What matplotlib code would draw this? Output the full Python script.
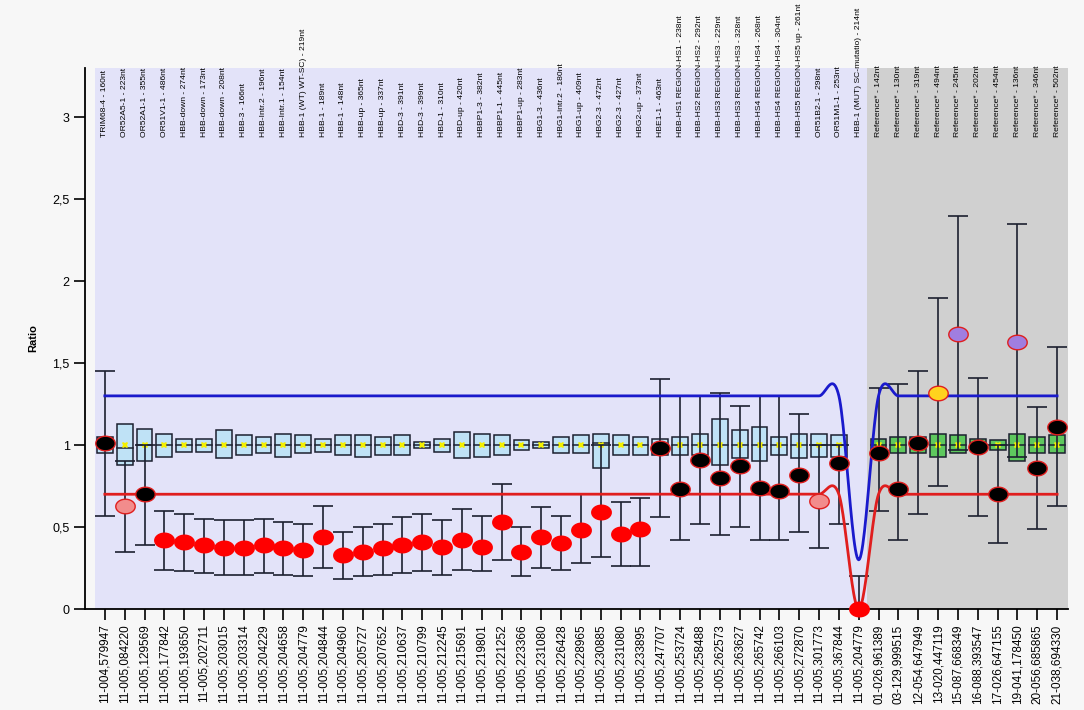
import numpy as np
import matplotlib
matplotlib.use('Agg')
import matplotlib.pyplot as plt
from matplotlib.path import Path

top_labels = [
    'TRIM68-4 - 160nt', 'OR52A5-1 - 223nt', 'OR52A1-1 - 355nt', 'OR51V1-1 - 486nt',
    'HBB-down - 274nt', 'HBB-down - 173nt', 'HBB-down - 208nt', 'HBB-3 - 166nt',
    'HBB-Intr.2 - 196nt', 'HBB-Intr.1 - 154nt', 'HBB-1 (WT) WT-SC) - 219nt',
    'HBB-1 - 189nt', 'HBB-1 - 148nt', 'HBB-up - 365nt', 'HBB-up - 337nt',
    'HBD-3 - 391nt', 'HBD-3 - 399nt', 'HBD-1 - 310nt', 'HBD-up - 420nt',
    'HBBP1-3 - 382nt', 'HBBP1-1 - 445nt', 'HBBP1-up - 283nt', 'HBG1-3 - 436nt',
    'HBG1-intr.2 - 180nt', 'HBG1-up - 409nt', 'HBG2-3 - 472nt', 'HBG2-3 - 427nt',
    'HBG2-up - 373nt', 'HBE1-1 - 463nt',
    'HBB-HS1 REGION-HS1 - 238nt', 'HBB-HS2 REGION-HS2 - 292nt',
    'HBB-HS3 REGION-HS3 - 229nt', 'HBB-HS3 REGION-HS3 - 328nt',
    'HBB-HS4 REGION-HS4 - 268nt', 'HBB-HS4 REGION-HS4 - 304nt',
    'HBB-HS5 REGION-HS5 up - 261nt', 'OR51B2-1 - 298nt', 'OR51M1-1 - 253nt',
    'HBB-1 (MUT) SC-mutatio) - 214nt',
    'Reference* - 142nt', 'Reference* - 130nt', 'Reference* - 319nt',
    'Reference* - 494nt', 'Reference* - 245nt', 'Reference* - 202nt',
    'Reference* - 454nt', 'Reference* - 136nt', 'Reference* - 346nt',
    'Reference* - 502nt',
]

bottom_labels = [
    '11-004,579947', '11-005,084220', '11-005,129569', '11-005,177842',
    '11-005,193650', '11-005,202711', '11-005,203015', '11-005,203314',
    '11-005,204229', '11-005,204658', '11-005,204779', '11-005,204844',
    '11-005,204960', '11-005,205727', '11-005,207652', '11-005,210637',
    '11-005,210799', '11-005,212245', '11-005,215691', '11-005,219801',
    '11-005,221252', '11-005,223366', '11-005,231080', '11-005,226428',
    '11-005,228965', '11-005,230885', '11-005,231080', '11-005,233895',
    '11-005,247707', '11-005,253724', '11-005,258488', '11-005,262573',
    '11-005,263627', '11-005,265742', '11-005,266103', '11-005,272870',
    '11-005,301773', '11-005,367844', '11-005,204779',
    '01-026,961389', '03-129,999515', '12-054,647949', '13-020,447119',
    '15-087,668349', '16-088,393547', '17-026,647155', '19-041,178450',
    '20-056,685865', '21-038,694330',
]

# reference box per probe (nan = no box)
box_lo = [0.95, 0.88, 0.90, 0.93, 0.96, 0.96, 0.92, 0.94, 0.95, 0.93,
          0.95, 0.96, 0.94, 0.93, 0.94, 0.94, 0.98, 0.96, 0.92, 0.93,
          0.94, 0.97, 0.98, 0.95, 0.95, 0.86, 0.94, 0.94, 0.94, 0.94,
          0.94, 0.88, 0.92, 0.90, 0.94, 0.92, 0.93, 0.93, np.nan,
          0.97, 0.95, 0.95, 0.93, 0.95, 0.97, 0.97, 0.90, 0.95, 0.95]
box_hi = [1.05, 1.13, 1.10, 1.07, 1.04, 1.04, 1.09, 1.06, 1.05, 1.07,
          1.06, 1.04, 1.06, 1.06, 1.05, 1.06, 1.02, 1.04, 1.08, 1.07,
          1.06, 1.03, 1.02, 1.05, 1.06, 1.07, 1.06, 1.05, 1.04, 1.05,
          1.07, 1.16, 1.09, 1.11, 1.05, 1.07, 1.07, 1.06, np.nan,
          1.04, 1.05, 1.05, 1.07, 1.06, 1.04, 1.03, 1.07, 1.05, 1.06]
box_med = [1.0, 0.98, 1.0, 1.0, 1.0, 1.0, 1.0, 1.0, 1.0, 1.0,
           1.0, 1.0, 1.0, 1.0, 1.0, 1.0, 1.0, 1.0, 1.0, 1.0,
           1.0, 1.0, 1.0, 1.0, 1.0, 1.01, 1.0, 1.0, 1.0, 1.0,
           1.0, 1.0, 1.0, 1.0, 1.0, 1.0, 1.0, 1.0, np.nan,
           1.0, 1.0, 1.0, 1.0, 1.0, 1.0, 1.0, 1.0, 1.0, 1.0]

# sample ratio and its interval
ratio = [1.01, 0.63, 0.70, 0.42, 0.41, 0.39, 0.37, 0.37, 0.39, 0.37,
         0.36, 0.44, 0.33, 0.35, 0.37, 0.39, 0.41, 0.38, 0.42, 0.38,
         0.53, 0.35, 0.44, 0.40, 0.48, 0.59, 0.46, 0.49, 0.98, 0.73,
         0.91, 0.80, 0.87, 0.74, 0.72, 0.82, 0.66, 0.89, 0.0,
         0.95, 0.73, 1.01, 1.32, 1.68, 0.99, 0.70, 1.63, 0.86, 1.11]
err_lo = [0.57, 0.35, 0.39, 0.24, 0.23, 0.22, 0.21, 0.21, 0.22, 0.21,
          0.20, 0.25, 0.18, 0.20, 0.21, 0.22, 0.23, 0.21, 0.24, 0.23,
          0.30, 0.20, 0.25, 0.24, 0.28, 0.32, 0.26, 0.26, 0.56, 0.42,
          0.52, 0.45, 0.50, 0.42, 0.42, 0.47, 0.37, 0.52, 0.0,
          0.60, 0.42, 0.58, 0.75, 0.97, 0.57, 0.40, 0.93, 0.49, 0.63]
err_hi = [1.45, 0.90, 1.00, 0.60, 0.58, 0.55, 0.54, 0.54, 0.55, 0.53,
          0.52, 0.63, 0.47, 0.50, 0.52, 0.56, 0.58, 0.54, 0.61, 0.57,
          0.76, 0.50, 0.62, 0.57, 0.70, 1.00, 0.65, 0.68, 1.40, 1.30,
          1.30, 1.32, 1.24, 1.30, 1.30, 1.19, 1.00, 1.00, 0.20,
          1.35, 1.37, 1.45, 1.90, 2.40, 1.41, 1.00, 2.35, 1.23, 1.60]
# k = normal, r = loss, p = weak loss, y = weak gain, v = gain
call = list('kpkrrrrrrrrrrrrrrrrrrrrrrrrrkkkkkkkkpkr'
            'kkkyvkkvkk')

upper_limit = [1.3] * 38 + [0.3] + [1.3] * 10
lower_limit = [0.7] * 38 + [0.0] + [0.7] * 10

dot_colors = {'k': '#000000', 'r': '#ff0000', 'p': '#f28c8c',
              'y': '#ffd21e', 'v': '#a07ee0'}

n = len(top_labels)
x = np.arange(n)
n_probe = 39


def smooth(vals, steps=24):
    # Catmull-Rom curve through the per-probe limits
    p = np.asarray(vals, float)
    pp = np.concatenate([[p[0]], p, [p[-1]]])
    xs, ys = [], []
    for i in range(len(p) - 1):
        p0, p1, p2, p3 = pp[i], pp[i + 1], pp[i + 2], pp[i + 3]
        m1 = (p2 - p0) / 2
        m2 = (p3 - p1) / 2
        t = np.linspace(0, 1, steps, endpoint=False)
        h00 = 2 * t**3 - 3 * t**2 + 1
        h10 = t**3 - 2 * t**2 + t
        h01 = -2 * t**3 + 3 * t**2
        h11 = t**3 - t**2
        xs.append(i + t)
        ys.append(h00 * p1 + h10 * m1 + h01 * p2 + h11 * m2)
    xs.append([len(p) - 1])
    ys.append([p[-1]])
    return np.concatenate(xs), np.concatenate(ys)


th = np.linspace(0, 2 * np.pi, 60)
ellipse = Path(np.column_stack([np.cos(th), 0.75 * np.sin(th)]))

fig = plt.figure(figsize=(10.84, 7.10), dpi=100)
fig.patch.set_facecolor('#f7f7f7')
ax = fig.add_axes([85 / 1084, 101 / 710, 983 / 1084, 541 / 710])
ax.set_facecolor('#f7f7f7')
ax.set_xlim(-1.0, 48.55)
ax.set_ylim(0, 3.3)

ax.axvspan(-0.5, n_probe - 0.6, color='#e3e3f9', zorder=0, lw=0)
ax.axvspan(n_probe - 0.6, 48.55, color='#d0d0d0', zorder=0, lw=0)

bw = 0.8
for i in range(n):
    if np.isnan(box_lo[i]):
        continue
    fc = '#bfe2f6' if i < n_probe else '#5ec85e'
    ax.add_patch(plt.Rectangle((i - bw / 2, box_lo[i]), bw, box_hi[i] - box_lo[i],
                               facecolor=fc, edgecolor='#1c2030', lw=1.1, zorder=2))
    ax.plot([i - bw / 2, i + bw / 2], [box_med[i], box_med[i]], color='#1c2030',
            lw=1.1, zorder=2.5)
    ax.plot(i, 1.0, marker='X', color='#f5f000', ms=5, mew=0, zorder=2.6)

ax.errorbar(x, ratio, yerr=[np.array(ratio) - np.array(err_lo),
                            np.array(err_hi) - np.array(ratio)],
            fmt='none', ecolor='#1c2030', elinewidth=1.2, capsize=7, capthick=1.2,
            zorder=3)

bx, by = smooth(upper_limit)
ax.plot(bx, by, color='#1a1acc', lw=2, zorder=4)
rx, ry = smooth(lower_limit)
ax.plot(rx, ry, color='#e01e1e', lw=2, zorder=4)

for i in range(n):
    c = call[i]
    ax.plot(i, ratio[i], marker=ellipse, ms=14, color=dot_colors[c],
            mec='#e01e1e' if c != 'r' else '#ff0000', mew=1, zorder=5, clip_on=False)

for i, lab in enumerate(top_labels):
    ax.text(i, 2.88, lab, rotation=90, ha='center', va='bottom', fontsize=6.1,
            family=['Liberation Sans Narrow', 'Liberation Sans', 'DejaVu Sans'],
            clip_on=False, zorder=6)

ax.set_xticks(x)
ax.set_xticklabels(bottom_labels, rotation=90, fontsize=8.5,
                   family=['Liberation Sans', 'DejaVu Sans'])
yt = [0, 0.5, 1, 1.5, 2, 2.5, 3]
ax.set_yticks(yt)
ax.set_yticklabels(['0', '0,5', '1', '1,5', '2', '2,5', '3'], fontsize=9,
                   family=['Liberation Sans', 'DejaVu Sans'])
ax.tick_params(axis='both', direction='out', length=8, width=1.2, pad=3)
ax.set_ylabel('Ratio', fontsize=8, fontweight='bold', labelpad=10,
              family=['Liberation Sans', 'DejaVu Sans'])

for s in ['top', 'right']:
    ax.spines[s].set_visible(False)
for s in ['left', 'bottom']:
    ax.spines[s].set_linewidth(1.3)

fig.savefig('out.png', dpi=100, facecolor=fig.get_facecolor())
